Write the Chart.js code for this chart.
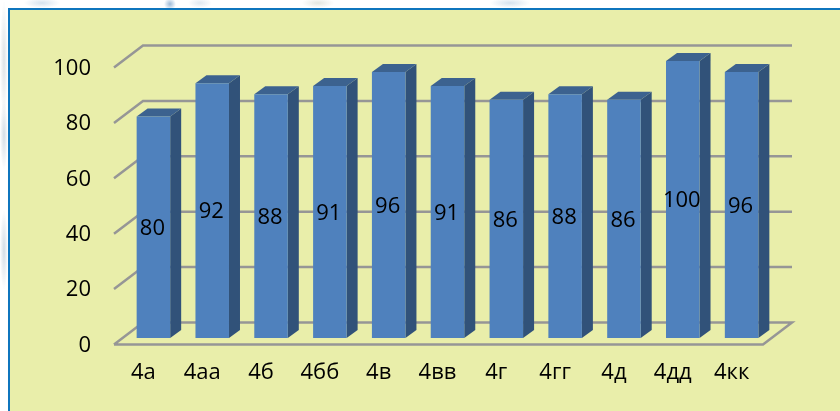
<!DOCTYPE html>
<html>
<head>
<meta charset="utf-8">
<style>
  html, body { margin: 0; padding: 0; overflow: hidden; }
  body {
    /* washed out doodles of the page behind the panel */
    height: 411px;
    background:
      radial-gradient(ellipse 18px 5px at 42px 3px, #d5e2ee, transparent),
      radial-gradient(ellipse 6px 6px at 170px 4px, #9fbbd8, transparent),
      radial-gradient(ellipse 12px 5px at 200px 3px, #dfe8f0, transparent),
      radial-gradient(ellipse 16px 5px at 318px 3px, #e2e6e0, transparent),
      radial-gradient(ellipse 20px 5px at 510px 3px, #d5e2ee, transparent),
      radial-gradient(ellipse 4px 60px at 4px 60px, #dde2e6, transparent),
      radial-gradient(ellipse 4px 35px at 4px 135px, #d3dde6, transparent),
      radial-gradient(ellipse 4px 40px at 4px 250px, #d3dde6, transparent),
      #fff;
  }
  #panel {
    position: absolute; left: 8px; top: 8px; width: 840px; height: 411px;
    background: #e9eeaa; border: 2px solid #0f75bd;
  }
  #chart { position: absolute; left: 0; top: 0; }
</style>
</head>
<body>
<div id="panel"></div>
<canvas id="chart" width="840" height="411"></canvas>
<script src="https://cdn.jsdelivr.net/npm/chart.js@4"></script>
<script>
const categories = ['4а', '4аа', '4б', '4бб', '4в', '4вв', '4г', '4гг', '4д', '4дд', '4кк'];
const percents = [80, 92, 88, 91, 96, 91, 86, 88, 86, 100, 96];
const yTicks = [0, 20, 40, 60, 80, 100];

const fontFamily = '"Open Sans", sans-serif';

// fake 3d: floor and walls, drawn from the y scale
const box3d = {
  id: 'box3d',
  beforeDatasetsDraw(chart) {
    const ctx = chart.ctx;
    const y = chart.scales.y;
    const left = 114, right = 763, dx = 29;
    ctx.save();
    ctx.strokeStyle = '#969696';
    ctx.lineWidth = 2.5;
    yTicks.forEach((t) => {
      const py = y.getPixelForValue(t);
      ctx.beginPath();
      ctx.moveTo(left, py + 6.5);
      ctx.lineTo(left + dx, py - 15.5);
      ctx.lineTo(right + dx, py - 15.5);
      if (t === 0) {
        ctx.lineTo(right, py + 6.5);
        ctx.lineTo(left, py + 6.5);
      }
      ctx.stroke();
    });
    // bar sides and tops
    const depthX = 11, depthY = 8;
    chart.getDatasetMeta(0).data.forEach((bar) => {
      const l = bar.x - bar.width / 2;
      const r = bar.x + bar.width / 2;
      ctx.fillStyle = '#315279';
      ctx.beginPath();
      ctx.moveTo(r, bar.base);
      ctx.lineTo(r + depthX, bar.base - depthY);
      ctx.lineTo(r + depthX, bar.y - depthY);
      ctx.lineTo(r, bar.y);
      ctx.closePath();
      ctx.fill();
      ctx.fillStyle = '#3c628f';
      ctx.beginPath();
      ctx.moveTo(l, bar.y);
      ctx.lineTo(l + depthX, bar.y - depthY);
      ctx.lineTo(r + depthX, bar.y - depthY);
      ctx.lineTo(r, bar.y);
      ctx.closePath();
      ctx.fill();
    });
    ctx.restore();
  },
  afterDatasetsDraw(chart) {
    const ctx = chart.ctx;
    ctx.save();
    ctx.fillStyle = '#000';
    ctx.font = '22px ' + fontFamily;
    ctx.textAlign = 'center';
    ctx.textBaseline = 'middle';
    chart.getDatasetMeta(0).data.forEach((bar, i) => {
      ctx.fillText(percents[i], bar.x - 1, (bar.y + bar.base) / 2 + 1.5);
    });
    ctx.restore();
  },
};

new Chart(document.getElementById('chart'), {
  type: 'bar',
  data: {
    labels: categories,
    datasets: [{
      data: percents,
      backgroundColor: '#4f81bd',
      categoryPercentage: 1,
      barPercentage: 0.57,
    }],
  },
  options: {
    responsive: false,
    animation: false,
    layout: { padding: { left: 0, right: 69, top: 61, bottom: 0 } },
    plugins: { legend: { display: false }, tooltip: { enabled: false } },
    scales: {
      x: {
        grid: { display: false },
        border: { display: false },
        ticks: {
          color: '#000',
          font: { family: fontFamily, size: 22 },
          labelOffset: -10,
          maxRotation: 0,
          autoSkip: false,
          padding: 14,
        },
        afterFit: (s) => { s.height = 73; },
      },
      y: {
        min: 0,
        max: 100,
        grid: { display: false },
        border: { display: false },
        afterBuildTicks: (s) => { s.ticks = yTicks.map((v) => ({ value: v })); },
        ticks: {
          color: '#000',
          font: { family: fontFamily, size: 22 },
          labelOffset: 7.5,
          padding: 25,
        },
        afterFit: (s) => { s.width = 124; },
      },
    },
  },
  plugins: [box3d],
});
</script>
</body>
</html>
